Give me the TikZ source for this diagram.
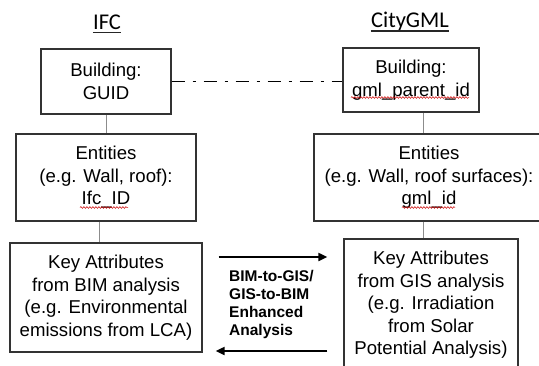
\documentclass[tikz,border=0pt]{standalone}
\usepackage{fontspec}
\setmainfont{Liberation Sans}
\newfontfamily\titlefont{Carlito}
\usetikzlibrary{arrows.meta,decorations.pathmorphing}
\begin{document}
\begin{tikzpicture}[x=1pt,y=-1pt,
  box/.style={draw=black!80,line width=1.3pt,fill=white,align=center,inner sep=0pt,
    font=\fontsize{18.6}{22.5}\selectfont},
  link/.style={draw=black!45,line width=1pt},
  flow/.style={draw=black,line width=2pt,-{Triangle[length=9pt,width=8pt]}},
  title/.style={font=\titlefont\fontsize{22.5}{26}\selectfont},
  uline/.style={draw=black!85,line width=1.3pt},
  squig/.style={draw=red!80!black,line width=0.5pt,decorate,
    decoration={snake,amplitude=0.9pt,segment length=3pt}}]
\useasboundingbox (0,0) rectangle (539,365);
\clip (0,0) rectangle (539,365);
\fill[white] (0,0) rectangle (539,365);

\node[title,inner sep=0pt] (tifc) at (107,22) {IFC};
\node[title,inner sep=0pt] (tgml) at (410,22) {CityGML};
\draw[uline] ([yshift=-3pt]tifc.base west) -- ([yshift=-3pt]tifc.base east);
\draw[uline] ([yshift=-3pt]tgml.base west) -- ([yshift=-3pt]tgml.base east);

\node[box,minimum width=130pt,minimum height=65pt] (b1) at (106,81.5) {Building:\\GUID};
\node[box,minimum width=136pt,minimum height=64pt] (b2) at (411,80) {Building:\\gml\_parent\_id};
\node[box,minimum width=180pt,minimum height=87pt] (b3) at (106,177.5) {Entities\\(e.g. Wall, roof):\\Ifc\_ID};
\node[box,minimum width=230pt,minimum height=87pt] (b4) at (429,177.5) {Entities\\(e.g. Wall, roof surfaces):\\gml\_id};
\node[box,minimum width=192pt,minimum height=109pt] (b5) at (106,297.5) {Key Attributes\\from BIM analysis\\(e.g. Environmental\\emissions from LCA)};
\node[box,minimum width=174pt,minimum height=132pt] (b6) at (431,305) {Key Attributes\\from GIS analysis\\(e.g. Irradiation\\from Solar\\Potential Analysis)};

\node[anchor=west,align=left,inner sep=0pt,font=\bfseries\fontsize{15.5}{18}\selectfont] (lab) at (229,304)
  {BIM-to-GIS/\\GIS-to-BIM\\Enhanced\\Analysis};

% dash-dot link
\draw[line width=1.8pt,dash pattern=on 13pt off 8pt on 3pt off 8pt] (b1.east) -- (b2.west |- b1.east);

% vertical connectors
\draw[link] (b1.south) -- (b3.north);
\draw[link] ([xshift=-7pt]b3.south) -- ([xshift=-7pt]b5.north);
\draw[link] ([xshift=12pt]b2.south) -- ([xshift=-6pt]b4.north);
\draw[link] ([xshift=-6pt]b4.south) -- ([xshift=-8pt]b6.north);

% arrows
\coordinate (a1s) at ([xshift=16pt]b5.east |- 0,257);
\coordinate (a1e) at ([xshift=-16pt]b6.west |- 0,257);
\coordinate (a2s) at ([xshift=-16pt]b6.west |- 0,351);
\coordinate (a2e) at ([xshift=13pt]b5.east |- 0,351);
\draw[flow] (a1s) -- (a1e);
\draw[flow] (a2s) -- (a2e);

% spell-check squiggles
\draw[squig] (351,97.5) -- (469,97.5);
\draw[squig] (80,207.5) -- (128,207.5);
\draw[squig] (402,207.5) -- (455,207.5);
\end{tikzpicture}
\end{document}
